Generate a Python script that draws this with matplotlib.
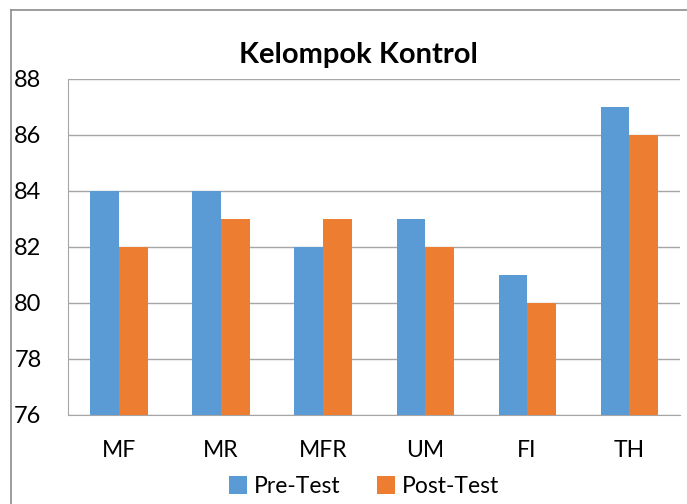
import matplotlib.pyplot as plt
import numpy as np
from matplotlib.lines import Line2D

categories = ["MF", "MR", "MFR", "UM", "FI", "TH"]
pre_test = [84, 84, 82, 83, 81, 87]
post_test = [82, 83, 83, 82, 80, 86]
y_ticks = [76, 78, 80, 82, 84, 86, 88]

plt.rcParams['font.family'] = ['Lato', 'DejaVu Sans']

fig = plt.figure(figsize=(6.87, 5.04), dpi=100)
ax = fig.add_axes([0.099, 0.1766, 0.891, 0.6667])

x = np.arange(len(categories))
w = 0.28
ax.bar(x - w/2, pre_test, w, color="#5B9BD5", label="Pre-Test", zorder=3)
ax.bar(x + w/2, post_test, w, color="#ED7D31", label="Post-Test", zorder=3)

ax.set_ylim(76, 88)
ax.set_xlim(-0.5, len(categories) - 0.5)
ax.set_yticks(y_ticks)
ax.set_xticks(x)
ax.set_xticklabels(categories)
ax.tick_params(axis="y", length=0, pad=19, labelsize=17)
ax.tick_params(axis="x", length=0, pad=18, labelsize=16.5)
ax.grid(axis="y", color="#A6A6A6", linewidth=1, zorder=0)
for s in ["top", "right"]:
    ax.spines[s].set_visible(False)
ax.spines["left"].set_color("#A6A6A6")
ax.spines["bottom"].set_color("#A6A6A6")

fig.text(0.522, 0.89, "Kelompok Kontrol", ha="center", va="center",
         fontsize=21, fontweight="bold")

ax.legend(loc="center", bbox_to_anchor=(0.53, 0.035), bbox_transform=fig.transFigure,
          ncol=2, frameon=False, fontsize=16.5, handlelength=0.8, handleheight=0.8,
          handletextpad=0.3, columnspacing=1.6)

# chart border (left and top edges visible)
fig.add_artist(Line2D([11/687, 11/687], [0, 1 - 10/504], color="#8C8C8C", linewidth=1.2))
fig.add_artist(Line2D([11/687, 1], [1 - 10/504, 1 - 10/504], color="#8C8C8C", linewidth=1.2))

fig.savefig("out.png", dpi=100)
